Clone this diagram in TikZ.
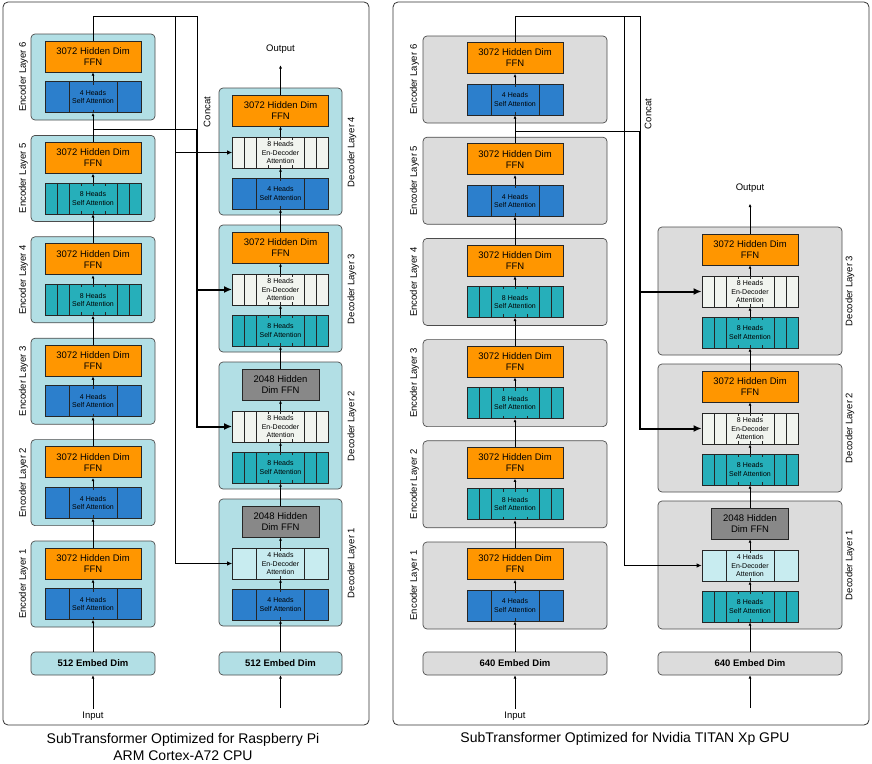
\documentclass[tikz,border=0pt]{standalone}
\usepackage{fontspec}
\setmainfont{Liberation Sans}
\usetikzlibrary{calc,arrows.meta}

\definecolor{layerblue}{RGB}{178,223,229}
\definecolor{layergray}{RGB}{220,220,220}
\definecolor{ffnorange}{RGB}{255,150,0}
\definecolor{ffngray}{RGB}{136,136,136}
\definecolor{attblue}{RGB}{44,127,204}
\definecolor{attteal}{RGB}{38,175,186}
\definecolor{attwhite}{RGB}{241,244,239}
\definecolor{attcyan}{RGB}{200,236,240}

\tikzset{
  divs/.style 2 args={path picture={
    \foreach \p in {#1}
      \draw[line width=0.6pt] ($(path picture bounding box.north west)!\p!(path picture bounding box.north east)$)
        -- ($(path picture bounding box.south west)!\p!(path picture bounding box.south east)$);
    \foreach \p in {#2} {
      \coordinate (hn) at ($(path picture bounding box.north west)!\p!(path picture bounding box.north east)$);
      \coordinate (hs) at ($(path picture bounding box.south west)!\p!(path picture bounding box.south east)$);
      \draw[line width=0.6pt] (hn) -- ($(hn)!3pt!(hs)$) (hs) -- ($(hs)!3pt!(hn)$);
    }
  }},
}

\begin{document}
\begin{tikzpicture}[
  x=1pt, y=-1pt,
  every node/.style={font=\fontsize{9.5}{11}\selectfont},
  lbox/.style={draw=black!70, line width=0.7pt, rounded corners=4pt, fill=#1, inner sep=0pt},
  embed/.style={lbox=#1, minimum height=23pt, font=\bfseries\fontsize{9.5}{11}\selectfont},
  blk/.style={draw=black!85, line width=0.8pt, inner sep=0pt, align=center, minimum height=31pt},
  ffnbox/.style={blk, minimum width=96pt, fill=ffnorange},
  ffn3072/.style={ffnbox},
  ffn2048/.style={ffnbox, minimum width=77pt, fill=ffngray},
  ffn/.style={ffn#1},
  att/.style={blk, minimum width=96pt, font=\fontsize{7}{8.2}\selectfont},
  heads4/.style={divs={0.25,0.75}{0.5}},
  heads8/.style={divs={0.125,0.25,0.75,0.875}{0.375,0.5,0.625}},
  sa4/.style={att, fill=attblue, heads4},
  sa8/.style={att, fill=attteal, heads8},
  ed4/.style={att, fill=attcyan, heads4},
  ed8/.style={att, fill=attwhite, heads8},
  sa/.style={sa#1},
  ed/.style={ed#1},
  layerlabel/.style={rotate=90},
  terminal/.style={inner sep=3pt},
  wire/.style={line width=0.8pt},
  flow/.style={-{Latex[length=3.2pt,width=3pt]}, line width=0.8pt},
  arr/.style={-{Latex[length=5pt,width=4.5pt]}, line width=0.8pt},
  thickarr/.style={-{Latex[length=8pt,width=7pt]}, line width=2pt},
  panel/.style={draw=black!80, line width=0.8pt, rounded corners=5pt},
  caption/.style={align=center, font=\fontsize{14}{16.5}\selectfont},
  ]
  \useasboundingbox (0,0) rectangle (872,763);

  % ---- Raspberry Pi ----
  \draw[panel] (3,2) rectangle (369,725);

  % encoder
  \foreach \i/\h in {1/4,2/4,3/4,4/8,5/8,6/4} {
    \pgfmathsetmacro\t{541-101.4*(\i-1)}
    \node[lbox=layerblue, minimum width=124pt, minimum height=86pt] (encL\i) at (93,{\t+43}) {};
    \node[ffn=3072] (effL\i) at (93,{\t+22.5}) {3072 Hidden Dim\\FFN};
    \node[sa/.expanded=\h] (esaL\i) at (93,{\t+63}) {\h~Heads\\Self Attention};
    \node[layerlabel] (elabL\i) at (23.5,{\t+43}) {Encoder Layer \i};
    \draw[flow] (esaL\i) -- (effL\i);
  }
  \foreach \i [count=\j from 2] in {1,...,5}
    \draw[flow] (effL\i) -- (esaL\j);
  \node[embed=layerblue, minimum width=124pt] (embL) at (93,663.5) {512 Embed Dim};
  \node[terminal] (inL) at (93,716) {Input};
  \draw[flow] (inL) -- (embL);
  \draw[flow] (embL) -- (esaL1);

  % decoder
  \foreach \i/\f/\e/\s in {1/2048/4/4,2/2048/8/8,3/3072/8/8,4/3072/8/4} {
    \pgfmathsetmacro\t{499-137*(\i-1)}
    \node[lbox=layerblue, minimum width=123pt, minimum height=127pt] (decL\i) at (280.5,{\t+63.5}) {};
    \node[ffn/.expanded=\f] (dffL\i) at (280.5,{\t+22.5})
      {\ifnum\f=3072 3072 Hidden Dim\\FFN\else 2048 Hidden\\Dim FFN\fi};
    \node[ed/.expanded=\e] (dedL\i) at (280.5,{\t+64.5}) {\e~Heads\\En-Decoder\\Attention};
    \node[sa/.expanded=\s] (dsaL\i) at (280.5,{\t+105.5}) {\s~Heads\\Self Attention};
    \node[layerlabel] (dlabL\i) at (352,{\t+64}) {Decoder Layer \i};
    \draw[flow] (dsaL\i) -- (dedL\i);
    \draw[flow] (dedL\i) -- (dffL\i);
  }
  \foreach \i [count=\j from 2] in {1,2,3}
    \draw[flow] (dffL\i) -- (dsaL\j);
  \node[embed=layerblue, minimum width=123pt] (dembL) at (280.5,663.5) {512 Embed Dim};
  \coordinate (dinL) at (280.5,708);
  \draw[flow] (dinL) -- (dembL);
  \draw[flow] (dembL) -- (dsaL1);
  \node (outL) at (280.5,49.5) {Output};
  \draw[flow] (dffL4) -- ([yshift=-8pt]outL.south);

  % concat
  \coordinate (caL) at (175,16);
  \coordinate (cbL) at (197,16);
  \coordinate (ctL) at (197,129);
  \coordinate (e5L) at (93,129);
  \draw[wire] (effL6.north) |- (cbL) -- (ctL);
  \draw[wire] (e5L) -- (ctL);
  \draw[arr] (caL) |- (dedL4.west);
  \draw[arr] (caL) |- (dedL1.west);
  \draw[thickarr] (ctL) |- (dedL3.west);
  \draw[thickarr] (ctL) |- (dedL2.west);
  \node[rotate=90] (catL) at (207,112) {Concat};

  \node[caption] (capL) at (183,747) {SubTransformer Optimized for Raspberry Pi\\ARM Cortex-A72 CPU};

  % ---- TITAN Xp ----
  \draw[panel] (393,2) rectangle (869,725);

  % encoder
  \foreach \i/\h in {1/4,2/8,3/8,4/8,5/4,6/4} {
    \pgfmathsetmacro\t{542-101.2*(\i-1)}
    \node[lbox=layergray, minimum width=184pt, minimum height=87pt] (encR\i) at (515,{\t+43.5}) {};
    \node[ffn=3072] (effR\i) at (515,{\t+22}) {3072 Hidden Dim\\FFN};
    \node[sa/.expanded=\h] (esaR\i) at (515,{\t+63.5}) {\h~Heads\\Self Attention};
    \node[layerlabel] (elabR\i) at (414.5,{\t+43.5}) {Encoder Layer \i};
    \draw[flow] (esaR\i) -- (effR\i);
  }
  \foreach \i [count=\j from 2] in {1,...,5}
    \draw[flow] (effR\i) -- (esaR\j);
  \node[embed=layergray, minimum width=184pt] (embR) at (515,663.5) {640 Embed Dim};
  \node[terminal] (inR) at (515,716) {Input};
  \draw[flow] (inR) -- (embR);
  \draw[flow] (embR) -- (esaR1);

  % decoder
  \foreach \i/\f/\e/\s in {1/2048/4/8,2/3072/8/8,3/3072/8/8} {
    \pgfmathsetmacro\t{501-137*(\i-1)}
    \node[lbox=layergray, minimum width=184pt, minimum height=128pt] (decR\i) at (750,{\t+64}) {};
    \node[ffn/.expanded=\f] (dffR\i) at (750,{\t+22.5})
      {\ifnum\f=3072 3072 Hidden Dim\\FFN\else 2048 Hidden\\Dim FFN\fi};
    \node[ed/.expanded=\e] (dedR\i) at (750,{\t+64.5}) {\e~Heads\\En-Decoder\\Attention};
    \node[sa/.expanded=\s] (dsaR\i) at (750,{\t+105.5}) {\s~Heads\\Self Attention};
    \node[layerlabel] (dlabR\i) at (850,{\t+64}) {Decoder Layer \i};
    \draw[flow] (dsaR\i) -- (dedR\i);
    \draw[flow] (dedR\i) -- (dffR\i);
  }
  \foreach \i [count=\j from 2] in {1,2}
    \draw[flow] (dffR\i) -- (dsaR\j);
  \node[embed=layergray, minimum width=184pt] (dembR) at (750,663.5) {640 Embed Dim};
  \coordinate (dinR) at (750,708);
  \draw[flow] (dinR) -- (dembR);
  \draw[flow] (dembR) -- (dsaR1);
  \node (outR) at (750,188) {Output};
  \draw[flow] (dffR3) -- ([yshift=-8pt]outR.south);

  % concat
  \coordinate (caR) at (624,16.5);
  \coordinate (cbR) at (640,16.5);
  \coordinate (ctR) at (640,131);
  \coordinate (e5R) at (515,131);
  \draw[wire] (effR6.north) |- (cbR) -- (ctR);
  \draw[wire] (e5R) -- (ctR);
  \draw[arr] (caR) |- (dedR1.west);
  \draw[thickarr] (ctR) |- (dedR3.west);
  \draw[thickarr] (ctR) |- (dedR2.west);
  \node[rotate=90] (catR) at (648,114) {Concat};

  \node[caption] (capR) at (625,739) {SubTransformer Optimized for Nvidia TITAN Xp GPU};
\end{tikzpicture}
\end{document}
